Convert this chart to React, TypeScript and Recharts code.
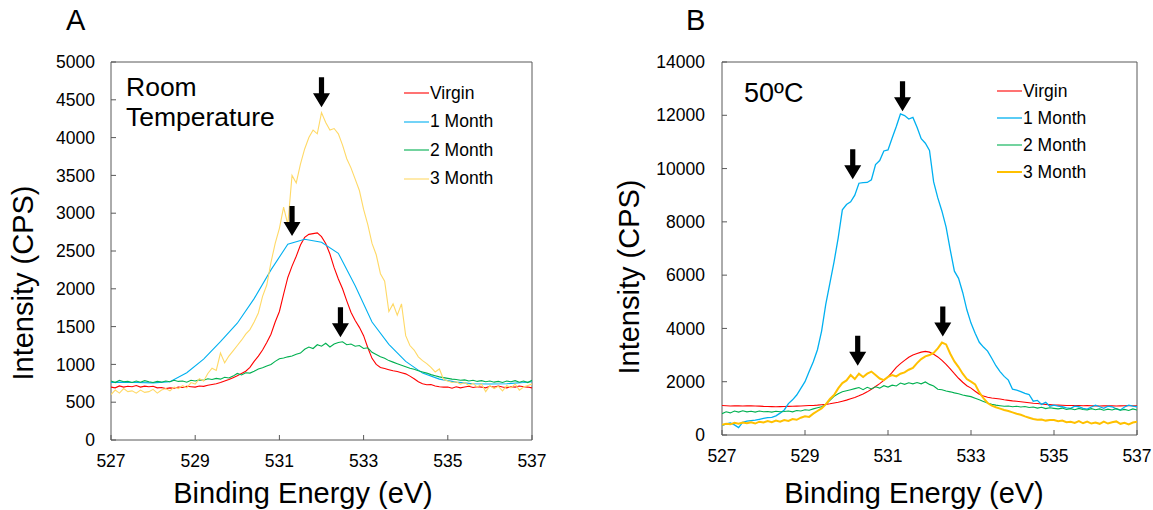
import { LineChart, Line, XAxis, YAxis, ReferenceArea, ReferenceDot, Legend } from 'recharts'

const FONT = '"Liberation Sans", Arial, sans-serif'

// binding energy grid (eV), 0.1 eV step
const energy = [
  527.0, 527.1, 527.2, 527.3, 527.4, 527.5, 527.6, 527.7, 527.8, 527.9,
  528.0, 528.1, 528.2, 528.3, 528.4, 528.5, 528.6, 528.7, 528.8, 528.9,
  529.0, 529.1, 529.2, 529.3, 529.4, 529.5, 529.6, 529.7, 529.8, 529.9,
  530.0, 530.1, 530.2, 530.3, 530.4, 530.5, 530.6, 530.7, 530.8, 530.9,
  531.0, 531.1, 531.2, 531.3, 531.4, 531.5, 531.6, 531.7, 531.8, 531.9,
  532.0, 532.1, 532.2, 532.3, 532.4, 532.5, 532.6, 532.7, 532.8, 532.9,
  533.0, 533.1, 533.2, 533.3, 533.4, 533.5, 533.6, 533.7, 533.8, 533.9,
  534.0, 534.1, 534.2, 534.3, 534.4, 534.5, 534.6, 534.7, 534.8, 534.9,
  535.0, 535.1, 535.2, 535.3, 535.4, 535.5, 535.6, 535.7, 535.8, 535.9,
  536.0, 536.1, 536.2, 536.3, 536.4, 536.5, 536.6, 536.7, 536.8, 536.9,
  537.0,
]

// the 1 Month room temperature scan was taken on a coarser grid
const energyCoarse = [
  527.0, 527.2, 527.6, 528.0, 528.4, 528.8, 529.2, 529.6, 530.0, 530.4, 530.8, 531.2, 531.6,
  532.0, 532.4, 532.8, 533.2, 533.6, 534.0, 534.4, 534.8, 535.2, 535.6, 536.0, 536.4, 536.8, 537.0,
]

// ---- A: room temperature ----
const rtVirgin = [
  700, 690, 715, 700, 710, 705, 720, 700, 712, 705,
  710, 690, 695, 680, 690, 685, 700, 695, 710, 705,
  700, 715, 710, 725, 735, 745, 760, 780, 800, 825,
  850, 880, 910, 960, 1040, 1110, 1190, 1290, 1400, 1560,
  1700, 1930, 2150, 2300, 2430, 2580, 2680, 2720, 2730, 2740,
  2690, 2600, 2460, 2280, 2130, 2000, 1840, 1690, 1580, 1490,
  1380, 1220, 1080, 1000, 960, 945, 930, 915, 905, 890,
  875, 845, 810, 770, 745, 730, 735, 715, 705, 700,
  700, 685, 705, 690, 700, 710, 695, 705, 700, 690,
  710, 700, 715, 700, 690, 705, 700, 715, 705, 700,
  690,
]
const rtMonth1 = [
  762, 765, 760, 755, 770, 890, 1070, 1300, 1545, 1870, 2250, 2590, 2655,
  2615, 2470, 2040, 1560, 1265, 1040, 885, 805, 765, 745, 740, 745, 760, 770,
]
const rtMonth2 = [
  780, 760, 790, 770, 775, 760, 780, 765, 785, 770,
  760, 775, 765, 780, 770, 790, 775, 780, 765, 790,
  780, 795, 790, 810, 800, 815, 805, 830, 820, 845,
  880, 860, 890, 885, 910, 940, 955, 980, 1000, 1040,
  1075, 1085, 1100, 1110, 1135, 1150, 1200, 1230, 1210, 1260,
  1240, 1280, 1230, 1270, 1290, 1300, 1260, 1270, 1240, 1250,
  1210, 1220, 1160, 1130, 1100, 1080, 1050, 1030, 1010, 990,
  970, 950, 935, 915, 900, 885, 865, 850, 835, 825,
  815, 805, 800, 790, 795, 780, 790, 775, 785, 770,
  780, 765, 775, 760, 780, 770, 785, 765, 780, 760,
  790,
]
const rtMonth3 = [
  600, 660, 620, 680, 640, 650, 620, 660, 630, 640,
  670, 620, 660, 680, 650, 700, 680, 720, 690, 760,
  740, 810, 780, 880, 950, 920, 1150, 1020, 1110, 1180,
  1250, 1320, 1400, 1460, 1560, 1680, 1900, 2050, 2350, 2600,
  2800, 3080, 2850, 3500, 3400, 3650, 3850, 4000, 4100, 4050,
  4330, 4200, 4100, 4120, 4050, 3900, 3720, 3600, 3450, 3300,
  3050, 2850, 2600, 2450, 2200, 2100, 1700, 1800, 1650, 1800,
  1380, 1250, 1190, 1100, 1050, 1010, 960, 900, 940, 800,
  780, 760, 770, 740, 760, 720, 750, 700, 740, 640,
  720, 680, 710, 650, 720, 690, 740, 660, 700, 720,
  740,
]

// ---- B: 50 ºC ----
const htVirgin = [
  1110, 1100, 1090, 1095, 1100, 1090, 1100, 1095, 1090, 1085,
  1075, 1070, 1065, 1060, 1065, 1070, 1075, 1080, 1085, 1090,
  1100, 1105, 1110, 1120, 1135, 1150, 1170, 1200, 1230, 1270,
  1310, 1360, 1410, 1470, 1540, 1620, 1720, 1820, 1930, 2050,
  2180, 2350, 2540, 2680, 2800, 2920, 3000, 3060, 3110, 3140,
  3110, 3030, 2930, 2800, 2650, 2480, 2300, 2130, 1980, 1850,
  1760, 1640, 1530, 1460, 1420, 1390, 1370, 1350, 1320, 1300,
  1280, 1265, 1250, 1230, 1210, 1190, 1180, 1165, 1150, 1140,
  1125, 1120, 1115, 1110, 1110, 1105, 1110, 1100, 1105, 1100,
  1095, 1090, 1095, 1100, 1095, 1090, 1095, 1100, 1105, 1100,
  1100,
]
const htMonth1 = [
  350, 420, 450, 380, 280, 480, 520, 540, 560, 590,
  620, 650, 660, 720, 820, 940, 1180, 1320, 1500, 1750,
  2000, 2380, 2750, 3200, 3900, 4900, 5700, 6500, 7400, 8450,
  8650, 8750, 9000, 9450, 9470, 9480, 9580, 10150, 10300, 10660,
  10700, 11150, 11580, 12050, 11990, 11860, 11920, 11550, 11120, 10950,
  10680, 9500, 8900, 8400, 7800, 6950, 6150, 5880, 5350, 4700,
  4200, 3820, 3480, 3300, 3150, 2880, 2600, 2380, 2200, 2060,
  1720, 1680, 1630, 1560, 1520, 1270, 1300, 1150, 1230, 1080,
  1120, 1080, 1060, 1020, 1000, 1080, 1060, 1000, 975, 1050,
  1120, 1060, 1000, 1080, 1060, 980, 940, 1050, 1120, 1080,
  1060,
]
const htMonth2 = [
  800, 870, 830, 900, 860, 910, 870, 890, 860, 900,
  870, 880, 860, 890, 870, 880, 900, 870, 920, 900,
  950, 930, 980, 1020, 1060, 1150, 1300, 1450, 1550, 1620,
  1660, 1700, 1740, 1780, 1700, 1790, 1730, 1810, 1760, 1850,
  1800, 1870, 1840, 1950, 1900, 1960, 1920, 1970, 1920, 1990,
  1900, 1840, 1720, 1700, 1650, 1620, 1580, 1550, 1500, 1470,
  1440, 1380, 1320, 1260, 1200, 1150, 1120, 1100, 1080, 1090,
  1060, 1080, 1050, 1070, 1030, 1050, 1010, 1040, 990, 1020,
  1000, 980, 1010, 960, 990, 950, 1000, 960, 940, 990,
  950, 980, 930, 970, 940, 990, 930, 960, 920, 980,
  940,
]
const htMonth3 = [
  380, 420, 400, 460, 420, 470, 440, 480, 430, 500,
  470, 520, 480, 540, 500, 560, 530, 600, 570, 650,
  700, 680, 800, 900, 1000, 1150, 1350, 1500, 1750, 1950,
  2050, 2250, 2100, 2300, 2180, 2300, 2380, 2250, 2120, 2060,
  2180, 2250, 2200, 2300, 2350, 2450, 2520, 2700, 2850, 2950,
  3000, 3080, 3250, 3470, 3400, 3050, 2760, 2550, 2300, 2100,
  2000, 1900, 1600, 1380, 1200, 1100, 1040, 990, 940, 900,
  850, 800, 760, 700, 650, 600, 570, 580, 540, 560,
  560, 520, 540, 480, 500, 450, 520, 440, 500, 430,
  470, 420, 500, 430, 480, 510, 420, 460, 400, 470,
  500,
]

const seriesNames = ['Virgin', '1 Month', '2 Month', '3 Month']
const xTicks = [527, 529, 531, 533, 535, 537]
const rtYTicks = [0, 500, 1000, 1500, 2000, 2500, 3000, 3500, 4000, 4500, 5000]
const htYTicks = [0, 2000, 4000, 6000, 8000, 10000, 12000, 14000]

// arrow tips [eV, CPS]
const rtArrows = [[532.0, 4400], [531.3, 2700], [532.45, 1360]]
const htArrows = [[531.35, 12150], [530.15, 9600], [530.27, 2600], [532.32, 3700]]

const toPoints = (xs: number[], ys: number[]) => ys.map((v, i) => ({ e: xs[i], v }))

interface Series { name: string; color: string; width: number; data: { e: number; v: number }[] }

function Arrow(props: { cx?: number; cy?: number }) {
  const { cx, cy } = props
  if (cx === undefined || cy === undefined) return null
  const d = `M${cx - 2.6},${cy - 30} L${cx + 2.6},${cy - 30} L${cx + 2.6},${cy - 14} L${cx + 8.5},${cy - 14} L${cx},${cy} L${cx - 8.5},${cy - 14} L${cx - 2.6},${cy - 14} Z`
  return <path d={d} fill="#000" />
}

function LegendBox({ series, rowH }: { series: Series[]; rowH: number }) {
  return (
    <div style={{ fontFamily: FONT, fontSize: 17.5, color: '#000' }}>
      {series.map(s => (
        <div key={s.name} style={{ display: 'flex', alignItems: 'center', height: rowH }}>
          <svg width={25} height={4} style={{ display: 'block' }}>
            <line x1={0} y1={2} x2={25} y2={2} stroke={s.color} strokeWidth={s.width} />
          </svg>
          <span style={{ marginLeft: 1 }}>{s.name}</span>
        </div>
      ))}
    </div>
  )
}

interface PanelProps {
  width: number
  margin: { top: number; right: number; bottom: number; left: number }
  yMax: number
  yTicks: number[]
  series: Series[]
  arrows: number[][]
  legendAt: { left: number; top: number }
  rowH: number
  yMarginGap: number
}

function Panel({ width, margin, yMax, yTicks, series, arrows, legendAt, rowH, yMarginGap }: PanelProps) {
  const tick = { fill: '#000', fontSize: 17.5, fontFamily: FONT }
  return (
    <LineChart width={width} height={510} margin={margin}>
      <XAxis
        type="number"
        dataKey="e"
        domain={[527, 537]}
        ticks={xTicks}
        allowDataOverflow
        height={40}
        axisLine={false}
        tickSize={-5}
        tickMargin={20}
        tickLine={{ stroke: '#595959' }}
        tick={tick}
      />
      <YAxis
        type="number"
        domain={[0, yMax]}
        ticks={yTicks}
        allowDataOverflow
        width={60}
        axisLine={false}
        tickSize={-5}
        tickMargin={yMarginGap}
        tickLine={{ stroke: '#595959' }}
        tick={tick}
      />
      <ReferenceArea x1={527} x2={537} y1={0} y2={yMax} fill="#fff" fillOpacity={0} stroke="#595959" strokeWidth={1} />
      {series.map(s => (
        <Line
          key={s.name}
          data={s.data}
          dataKey="v"
          name={s.name}
          type="linear"
          stroke={s.color}
          strokeWidth={s.width}
          dot={false}
          activeDot={false}
          isAnimationActive={false}
        />
      ))}
      {arrows.map(([x, y], i) => (
        <ReferenceDot key={i} x={x} y={y} r={0} shape={<Arrow />} ifOverflow="visible" />
      ))}
      <Legend
        layout="vertical"
        align="center"
        verticalAlign="middle"
        wrapperStyle={{ left: legendAt.left, top: legendAt.top, width: 140, bottom: 'auto', right: 'auto' }}
        content={() => <LegendBox series={series} rowH={rowH} />}
      />
    </LineChart>
  )
}

const abs = (s: React.CSSProperties): React.CSSProperties => ({ position: 'absolute', fontFamily: FONT, color: '#000', whiteSpace: 'nowrap', ...s })

export default function App() {
  const rtSeries: Series[] = [
    { name: seriesNames[0], color: '#ff0000', width: 1.1, data: toPoints(energy, rtVirgin) },
    { name: seriesNames[1], color: '#00b0f0', width: 1.1, data: toPoints(energyCoarse, rtMonth1) },
    { name: seriesNames[2], color: '#00b050', width: 1.1, data: toPoints(energy, rtMonth2) },
    { name: seriesNames[3], color: '#ffd966', width: 1.1, data: toPoints(energy, rtMonth3) },
  ]
  const htSeries: Series[] = [
    { name: seriesNames[0], color: '#ff0000', width: 1.1, data: toPoints(energy, htVirgin) },
    { name: seriesNames[1], color: '#00b0f0', width: 1.3, data: toPoints(energy, htMonth1) },
    { name: seriesNames[2], color: '#00b050', width: 1.1, data: toPoints(energy, htMonth2) },
    { name: seriesNames[3], color: '#ffc000', width: 2, data: toPoints(energy, htMonth3) },
  ]

  return (
    <div style={{ position: 'absolute', left: 0, top: 0, width: 1153, height: 510, background: '#fff', overflow: 'hidden' }}>
      <div style={{ position: 'absolute', left: 0, top: 0 }}>
        <Panel
          width={560}
          margin={{ top: 62, right: 28, bottom: 30, left: 51 }}
          yMax={5000}
          yTicks={rtYTicks}
          series={rtSeries}
          arrows={rtArrows}
          legendAt={{ left: 404, top: 79 }}
          rowH={28.5}
          yMarginGap={21}
        />
      </div>
      <div style={{ position: 'absolute', left: 580, top: 0 }}>
        <Panel
          width={573}
          margin={{ top: 62, right: 16, bottom: 35, left: 82 }}
          yMax={14000}
          yTicks={htYTicks}
          series={htSeries}
          arrows={htArrows}
          legendAt={{ left: 417, top: 77.5 }}
          rowH={27}
          yMarginGap={22}
        />
      </div>

      <div style={abs({ left: 66, top: 6, fontSize: 29, lineHeight: '29px' })}>A</div>
      <div style={abs({ left: 686, top: 6, fontSize: 29, lineHeight: '29px' })}>B</div>

      <div style={abs({ left: 126, top: 72, fontSize: 26.5, lineHeight: '30px' })}>Room<br />Temperature</div>
      <div style={abs({ left: 744, top: 78, fontSize: 27, lineHeight: '30px' })}>50ºC</div>

      <div style={abs({ left: 103, top: 479, width: 400, textAlign: 'center', fontSize: 29, lineHeight: '28px' })}>Binding Energy (eV)</div>
      <div style={abs({ left: 714, top: 479, width: 400, textAlign: 'center', fontSize: 29, lineHeight: '28px' })}>Binding Energy (eV)</div>

      <div style={abs({ left: 23, top: 283, fontSize: 29, lineHeight: '28px', transform: 'translate(-50%, -50%) rotate(-90deg)' })}>Intensity (CPS)</div>
      <div style={abs({ left: 629, top: 277, fontSize: 29, lineHeight: '28px', transform: 'translate(-50%, -50%) rotate(-90deg)' })}>Intensity (CPS)</div>
    </div>
  )
}
